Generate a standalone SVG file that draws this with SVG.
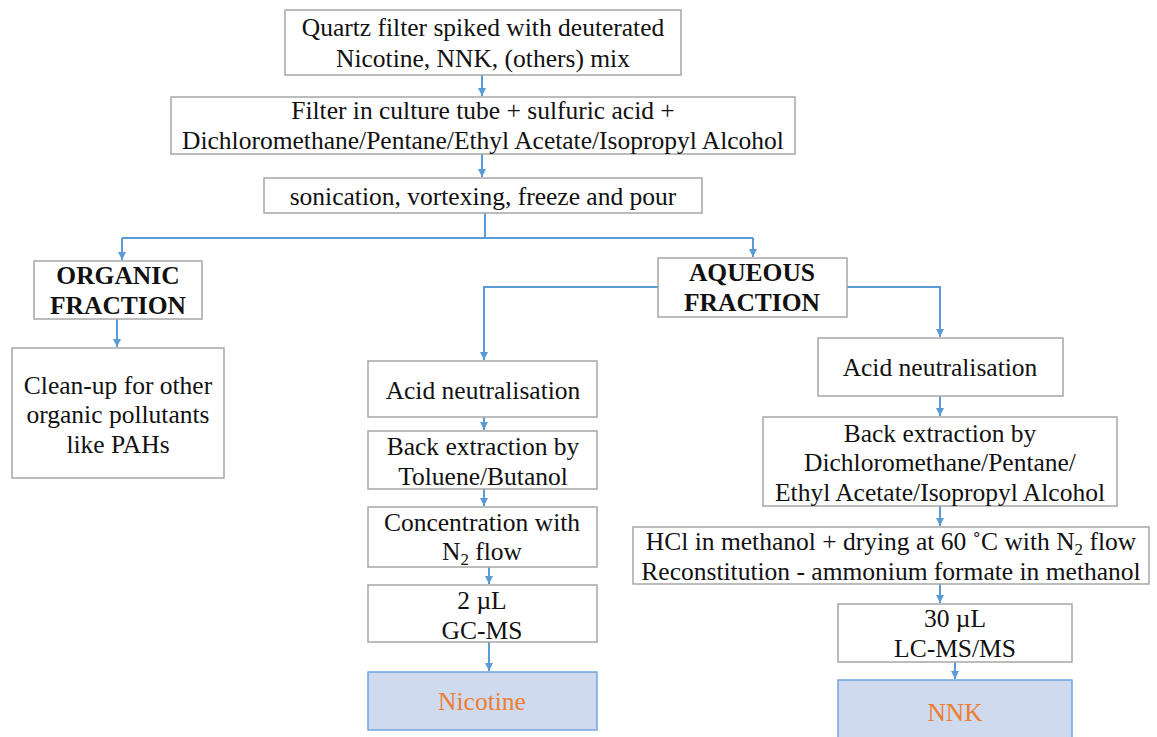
<svg xmlns="http://www.w3.org/2000/svg" width="1157" height="737" viewBox="0 0 1157 737">
<defs>
<style>
.box{fill:#fff;stroke:#a6a6a6;stroke-width:1.5}
.res{fill:#cfdaee;stroke:#72a7dc;stroke-width:1.5}
.t{font-family:"Liberation Serif",serif;font-size:25.5px;fill:#111;text-anchor:middle}
.b{font-weight:bold}
.o{fill:#ed7d31}
.c{fill:none;stroke:#5b9bd5;stroke-width:2}
</style>
<marker id="ah" markerUnits="userSpaceOnUse" markerWidth="10" markerHeight="10" refX="8" refY="4" orient="auto">
<path d="M0,0 L8,4 L0,8 z" fill="#5b9bd5"/>
</marker>
</defs>
<rect width="1157" height="737" fill="#fff"/>
<g id="connectors">
<path class="c" d="M482,75 V96" marker-end="url(#ah)"/>
<path class="c" d="M482,154 V177" marker-end="url(#ah)"/>
<path class="c" d="M485,213 V238 M122,238 H753"/>
<path class="c" d="M122,238 V260" marker-end="url(#ah)"/>
<path class="c" d="M753,238 V257" marker-end="url(#ah)"/>
<path class="c" d="M117,319 V347" marker-end="url(#ah)"/>
<path class="c" d="M658,287 H484 V360" marker-end="url(#ah)"/>
<path class="c" d="M847,287 H940 V337" marker-end="url(#ah)"/>
<path class="c" d="M484,417 V430" marker-end="url(#ah)"/>
<path class="c" d="M484,489 V506" marker-end="url(#ah)"/>
<path class="c" d="M489,567 V584" marker-end="url(#ah)"/>
<path class="c" d="M489,642 V671" marker-end="url(#ah)"/>
<path class="c" d="M940,396 V416" marker-end="url(#ah)"/>
<path class="c" d="M940,506 V526" marker-end="url(#ah)"/>
<path class="c" d="M940,584 V603" marker-end="url(#ah)"/>
<path class="c" d="M955,662 V679" marker-end="url(#ah)"/>
</g>
<g id="n1"><rect class="box" x="285" y="10" width="396" height="65"/>
<text class="t" x="483" y="36">Quartz filter spiked with deuterated</text>
<text class="t" x="483" y="67">Nicotine, NNK, (others) mix</text></g>
<g id="n2"><rect class="box" x="171" y="97" width="624" height="57"/>
<text class="t" x="483" y="119">Filter in culture tube + sulfuric acid +</text>
<text class="t" x="483" y="149">Dichloromethane/Pentane/Ethyl Acetate/Isopropyl Alcohol</text></g>
<g id="n3"><rect class="box" x="264" y="178" width="438" height="35"/>
<text class="t" x="483" y="205">sonication, vortexing, freeze and pour</text></g>
<g id="organic"><rect class="box" x="34" y="261" width="168" height="58"/>
<text class="t b" x="118" y="284">ORGANIC</text>
<text class="t b" x="118" y="314">FRACTION</text></g>
<g id="cleanup"><rect class="box" x="12" y="348" width="212" height="130"/>
<text class="t" x="118" y="394">Clean-up for other</text>
<text class="t" x="118" y="423">organic pollutants</text>
<text class="t" x="118" y="453">like PAHs</text></g>
<g id="aqueous"><rect class="box" x="658" y="258" width="189" height="59"/>
<text class="t b" x="752" y="281">AQUEOUS</text>
<text class="t b" x="752" y="311">FRACTION</text></g>
<g id="l1"><rect class="box" x="368" y="361" width="229" height="56"/>
<text class="t" x="483" y="399">Acid neutralisation</text></g>
<g id="l2"><rect class="box" x="368" y="431" width="229" height="58"/>
<text class="t" x="483" y="455">Back extraction by</text>
<text class="t" x="483" y="485">Toluene/Butanol</text></g>
<g id="l3"><rect class="box" x="368" y="507" width="229" height="60"/>
<text class="t" x="482" y="531">Concentration with</text>
<text class="t" x="482" y="560">N<tspan font-size="17" dy="5">2</tspan><tspan dy="-5"> flow</tspan></text></g>
<g id="l4"><rect class="box" x="368" y="585" width="229" height="57"/>
<text class="t" x="482" y="609">2 µL</text>
<text class="t" x="482" y="639">GC-MS</text></g>
<g id="nicotine"><rect class="res" x="368" y="672" width="229" height="58"/>
<text class="t o" x="482" y="710">Nicotine</text></g>
<g id="r1"><rect class="box" x="818" y="338" width="245" height="58"/>
<text class="t" x="940" y="376">Acid neutralisation</text></g>
<g id="r2"><rect class="box" x="763" y="417" width="354" height="89"/>
<text class="t" x="940" y="442">Back extraction by</text>
<text class="t" x="940" y="471">Dichloromethane/Pentane/</text>
<text class="t" x="940" y="501">Ethyl Acetate/Isopropyl Alcohol</text></g>
<g id="r3"><rect class="box" x="633" y="527" width="516" height="57"/>
<text class="t" x="891" y="550">HCl in methanol + drying at 60 ˚C with N<tspan font-size="17" dy="5">2</tspan><tspan dy="-5"> flow</tspan></text>
<text class="t" x="891" y="580">Reconstitution - ammonium formate in methanol</text></g>
<g id="r4"><rect class="box" x="838" y="604" width="234" height="58"/>
<text class="t" x="955" y="627">30 µL</text>
<text class="t" x="955" y="657">LC-MS/MS</text></g>
<g id="nnk"><rect class="res" x="838" y="680" width="234" height="60"/>
<text class="t o" x="955" y="721">NNK</text></g>
</svg>
